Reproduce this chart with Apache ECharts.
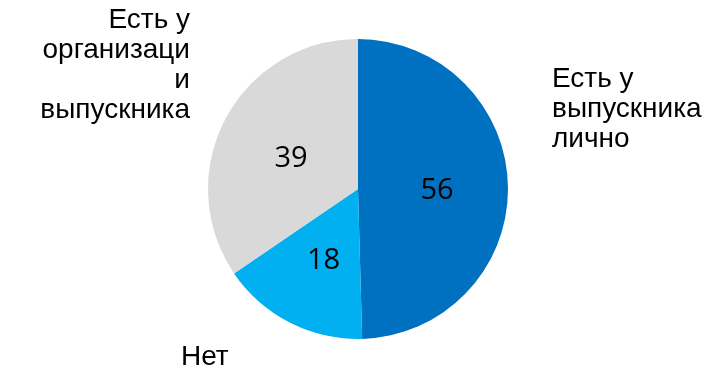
<!DOCTYPE html>
<html>
<head>
<meta charset="utf-8">
<script src="https://cdn.jsdelivr.net/npm/echarts@6/dist/echarts.min.js"></script>
<style>
html,body{margin:0;padding:0;background:#fff;}
#chart{width:728px;height:371px;}
</style>
</head>
<body>
<div id="chart"></div>
<script>
var categories = ["Есть у\nвыпускника\nлично", "Нет", "Есть у\nорганизаци\nи\nвыпускника"];
var values = [56, 18, 39];
var colors = ["#0070C0", "#00B0F0", "#D9D9D9"];

// label placement (layout only)
var outerLabelPos = [
  {x: 552, y: 64, align: 'left'},
  {x: 181, y: 342, align: 'left'},
  {x: 190, y: 5, align: 'right'}
];
var innerLabelOffset = [[1, 3], [1, 2], [2, 6]];

var chart = echarts.init(document.getElementById('chart'), null, {renderer: 'canvas'});
var data = categories.map(function (c, i) {
  return {name: c, value: values[i], itemStyle: {color: colors[i]},
          label: {offset: innerLabelOffset[i]}};
});

chart.setOption({
  animation: false,
  backgroundColor: '#ffffff',
  series: [
    {
      type: 'pie',
      center: [358, 189],
      radius: [0, 150],
      startAngle: 90,
      clockwise: true,
      data: data,
      silent: true,
      itemStyle: {borderWidth: 0},
      label: {
        show: true,
        position: 'inside',
        formatter: '{c}',
        color: '#000',
        fontFamily: 'Open Sans',
        fontSize: 29
      },
      labelLine: {show: false}
    },
    {
      type: 'pie',
      center: [358, 189],
      radius: [0, 150],
      startAngle: 90,
      clockwise: true,
      silent: true,
      data: categories.map(function (c, i) {
        return {name: c, value: values[i], itemStyle: {color: 'rgba(0,0,0,0)'}};
      }),
      label: {
        show: true,
        position: 'outside',
        formatter: '{b}',
        color: '#000',
        fontFamily: 'Liberation Sans',
        fontSize: 28,
        lineHeight: 30
      },
      labelLine: {show: false},
      labelLayout: function (params) {
        var p = outerLabelPos[params.dataIndex];
        return {x: p.x, y: p.y, align: p.align, verticalAlign: 'top', hideOverlap: false, moveOverlap: null};
      }
    }
  ]
});
</script>
</body>
</html>
